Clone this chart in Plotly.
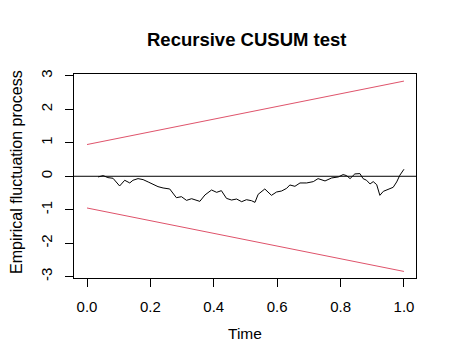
import plotly.graph_objects as go

# Empirical fluctuation process
time_vals = [0.035, 0.051, 0.066, 0.082, 0.103, 0.119, 0.135, 0.145, 0.161, 0.177,
             0.193, 0.208, 0.224, 0.240, 0.261, 0.282, 0.298, 0.314, 0.330, 0.356,
             0.372, 0.393, 0.409, 0.424, 0.440, 0.456, 0.472, 0.488, 0.503, 0.519,
             0.530, 0.540, 0.561, 0.582, 0.598, 0.614, 0.630, 0.640, 0.656, 0.672,
             0.693, 0.714, 0.729, 0.751, 0.772, 0.793, 0.808, 0.819, 0.830, 0.845,
             0.861, 0.871, 0.882, 0.893, 0.903, 0.914, 0.924, 0.935, 0.950, 0.966,
             0.977, 0.987, 1.000]
process_vals = [-0.02, 0.02, -0.04, -0.06, -0.29, -0.12, -0.20, -0.12, -0.07, -0.10,
                -0.17, -0.25, -0.31, -0.35, -0.38, -0.64, -0.61, -0.72, -0.67, -0.75,
                -0.56, -0.41, -0.48, -0.43, -0.66, -0.71, -0.68, -0.76, -0.70, -0.73,
                -0.78, -0.54, -0.38, -0.57, -0.47, -0.44, -0.36, -0.26, -0.30, -0.20,
                -0.20, -0.16, -0.07, -0.14, -0.05, -0.02, 0.05, 0.02, -0.07, 0.07,
                0.08, -0.07, -0.12, -0.23, -0.16, -0.25, -0.57, -0.45, -0.38, -0.33,
                -0.17, 0.03, 0.21]

# Boundaries
bound_t = [0.0, 1.0]
upper_bound = [0.948, 2.844]
lower_bound = [-0.948, -2.844]

x_ticks = [0.0, 0.2, 0.4, 0.6, 0.8, 1.0]
x_tick_labels = ["0.0", "0.2", "0.4", "0.6", "0.8", "1.0"]
y_ticks = [-3, -2, -1, 0, 1, 2, 3]
y_tick_labels = ["-3", "-2", "-1", "0", "1", "2", "3"]

RED = "#DF536B"
FONT = "Liberation Sans, Arial, sans-serif"

OFF = 8  # page body margin
W, H = 455 - OFF, 364 - OFF
L, R, T, B = 74 - OFF, 39, 74 - OFF, 94 - OFF
PW, PH = W - L - R, H - T - B


def px(xp):
    return (xp - OFF - L) / PW


def py(yp):
    return (H - B - (yp - OFF)) / PH


fig = go.Figure()
fig.add_trace(go.Scatter(x=bound_t, y=upper_bound, mode="lines",
                         line=dict(color=RED, width=1), hoverinfo="skip"))
fig.add_trace(go.Scatter(x=bound_t, y=lower_bound, mode="lines",
                         line=dict(color=RED, width=1), hoverinfo="skip"))
fig.add_trace(go.Scatter(x=[-0.05, 1.05], y=[0, 0], mode="lines",
                         line=dict(color="black", width=1), hoverinfo="skip"))
fig.add_trace(go.Scatter(x=time_vals, y=process_vals, mode="lines",
                         line=dict(color="black", width=1)))

ann = [
    dict(text="<b>Recursive CUSUM test</b>", x=px(246), y=py(40), xref="paper", yref="paper",
         showarrow=False, font=dict(size=18.5, family=FONT), xanchor="center", yanchor="middle"),
    dict(text="Time", x=px(245), y=py(333), xref="paper", yref="paper",
         showarrow=False, font=dict(size=15.5, family=FONT), xanchor="center", yanchor="middle"),
    dict(text="Empirical fluctuation process", x=px(16), y=py(172), xref="paper", yref="paper",
         showarrow=False, textangle=-90, font=dict(size=16, family=FONT),
         xanchor="center", yanchor="middle"),
]

fig.update_layout(
    width=W, height=H,
    margin=dict(l=L, r=R, t=T, b=B, autoexpand=False),
    paper_bgcolor="white", plot_bgcolor="white",
    showlegend=False,
    font=dict(family=FONT, color="black", size=12),
    annotations=ann,
)

fig.update_xaxes(range=[-0.041, 1.038], tickvals=x_ticks, ticktext=x_tick_labels,
                 showgrid=False, zeroline=False, showline=True, linecolor="black", linewidth=1,
                 mirror=True, ticks="outside", ticklen=8, tickcolor="black", tickwidth=1,
                 tickfont=dict(size=15), ticklabelstandoff=7, automargin=False)
fig.update_yaxes(range=[-3.04, 3.056], tickvals=y_ticks, ticktext=y_tick_labels,
                 showgrid=False, zeroline=False, showline=True, linecolor="black", linewidth=1,
                 mirror=True, ticks="outside", ticklen=8, tickcolor="black", tickwidth=1,
                 tickangle=-90, tickfont=dict(size=15), ticklabelstandoff=7, automargin=False)

fig.write_html("out.html")
